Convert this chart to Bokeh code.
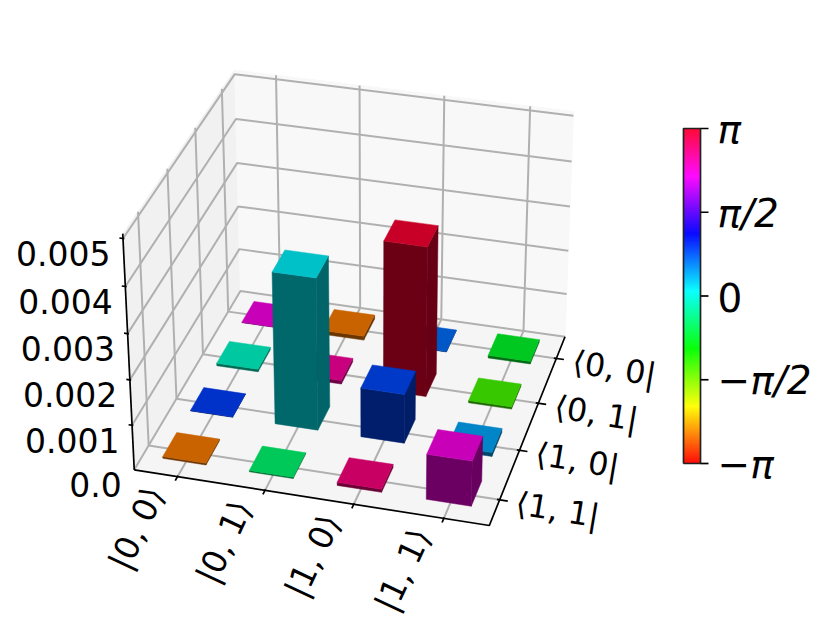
import colorsys
import numpy as np
from bokeh.core.properties import value
from bokeh.embed import file_html
from bokeh.models import ColumnDataSource, Range1d
from bokeh.plotting import figure
from bokeh.resources import INLINE

# ---- data -----------------------------------------------------------
kets = ["|0, 0⟩", "|0, 1⟩", "|1, 0⟩", "|1, 1⟩"]
bras = ["⟨0, 0|", "⟨0, 1|", "⟨1, 0|", "⟨1, 1|"]
z_ticks = [0.0, 0.001, 0.002, 0.003, 0.004, 0.005]
z_labels = ["0.0", "0.001", "0.002", "0.003", "0.004", "0.005"]
cbar_ticks = [-np.pi, -np.pi / 2, 0.0, np.pi / 2, np.pi]
cbar_labels = ["−π", "−π/2", "0", "π/2", "π"]

# rows are bras, columns are kets
magnitude_00 = [0.00001, 0.00009, 0.00001, 0.00006]
magnitude_01 = [0.00006, 0.00008, 0.00336, 0.00005]
magnitude_10 = [0.00001, 0.00338, 0.00110, 0.00009]
magnitude_11 = [0.00004, 0.00003, 0.00007, 0.00100]
phase_00 = [2.18, -2.62, 0.59, -0.87]
phase_01 = [-0.21, 2.48, 2.93, -1.34]
phase_10 = [0.79, 0.04, 0.75, 0.35]
phase_11 = [-2.62, -0.58, 2.62, 2.18]

magnitudes = [magnitude_00, magnitude_01, magnitude_10, magnitude_11]
phases = [phase_00, phase_01, phase_10, phase_11]

# ---- camera: maps (ket position, depth, height) to the page ----------
Z_TOP = z_ticks[-1]
calibration = [
    ((0, 0, 0), (133, 469)), ((4, 0, 0), (489, 525)), ((4, 4, 0), (565, 335)),
    ((0, 4, 0), (240, 290)), ((0, 0, 1), (122.3, 238)), ((0, 4, 1), (234, 74)),
    ((4, 4, 1), (573, 115)), ((0.5, 0, 0), (177.5, 477)), ((3.5, 0, 0), (443, 517.5)),
    ((4, 0.5, 0), (499.5, 499)), ((4, 3.5, 0), (555, 360)),
    ((0, 4, 0.4), (238, 206)), ((0, 0, 0.6), (127.5, 333)),
]
rows = []
for (a, b, c), (sx, sy) in calibration:
    rows.append([a, b, c, 1, 0, 0, 0, 0, -sx * a, -sx * b, -sx * c, -sx])
    rows.append([0, 0, 0, 0, a, b, c, 1, -sy * a, -sy * b, -sy * c, -sy])
CAMERA = np.linalg.svd(np.array(rows, float))[2][-1].reshape(3, 4)


def project(u, v, w):
    h = CAMERA @ np.array([u, v, w, 1.0])
    return h[0] / h[2], h[1] / h[2]


def poly(points):
    pts = [project(*p) for p in points]
    return [p[0] for p in pts], [p[1] for p in pts]


def phase_rgb(phase, factor=1.0, stretch=1.0):
    t = (phase + np.pi) / (2 * np.pi)
    r, g, b = colorsys.hsv_to_rgb(t * stretch, 1, 1)
    return "#%02x%02x%02x" % (int(r * 255 * factor), int(g * 255 * factor), int(b * 255 * factor))


p = figure(width=815, height=624, output_backend="svg", toolbar_location=None,
           x_range=Range1d(0, 815), y_range=Range1d(624, 0), min_border=0)
p.axis.visible = False
p.grid.visible = False
p.outline_line_color = None
p.background_fill_color = "white"

# ---- panes -----------------------------------------------------------
PANE_TOP = 1.018
for pts, col in [
    ([(0, 0, 0), (0, 4, 0), (0, 4, PANE_TOP), (0, 0, PANE_TOP)], "#f1f1f1"),
    ([(0, 4, 0), (4, 4, 0), (4, 4, PANE_TOP), (0, 4, PANE_TOP)], "#f8f8f8"),
    ([(0, 0, 0), (4, 0, 0), (4, 4, 0), (0, 4, 0)], "#f5f5f5"),
]:
    xs, ys = poly(pts)
    p.patch(xs, ys, fill_color=col, line_color=col, line_width=1)

# ---- grid ------------------------------------------------------------
gx, gy = [], []
for i in range(len(kets)):
    a = poly([(i + 0.5, 0, 0), (i + 0.5, 4, 0), (i + 0.5, 4, PANE_TOP)])
    gx.append(a[0]); gy.append(a[1])
for j in range(len(bras)):
    a = poly([(4, j + 0.5, 0), (0, j + 0.5, 0), (0, j + 0.5, PANE_TOP)])
    gx.append(a[0]); gy.append(a[1])
for z in z_ticks:
    w = z / Z_TOP
    a = poly([(0, 0, w), (0, 4, w), (4, 4, w)])
    gx.append(a[0]); gy.append(a[1])
p.multi_line(gx, gy, line_color="#b0b0b0", line_width=2)

# ---- axis lines and ticks --------------------------------------------
ax, ay = [], []
for pts in [[(0, 0, 0), (4, 0, 0), (4, 4, 0)], [(0, 0, 0), (0, 0, 1.02)]]:
    a = poly(pts)
    ax.append(a[0]); ay.append(a[1])
for i in range(len(kets)):
    a = poly([(i + 0.5, 0.02, 0), (i + 0.5, -0.08, 0)])
    ax.append(a[0]); ay.append(a[1])
for j in range(len(bras)):
    a = poly([(3.97, j + 0.5, 0), (4.09, j + 0.5, 0)])
    ax.append(a[0]); ay.append(a[1])
for z in z_ticks[1:]:
    w = z / Z_TOP
    a = poly([(0.015, 0, w), (-0.04, 0, w)])
    ax.append(a[0]); ay.append(a[1])
p.multi_line(ax, ay, line_color="black", line_width=1.7)

# ---- bars, painted back to front -------------------------------------
BAR = 0.5
face_x, face_y, face_c = [], [], []
for r, (mag_row, ph_row) in enumerate(zip(magnitudes, phases)):
    v0 = len(bras) - r - 0.5 - BAR / 2 + 0.05
    v1 = v0 + BAR
    for c, (m, ph) in enumerate(zip(mag_row, ph_row)):
        u0 = c + 0.482 - BAR / 2
        u1 = u0 + BAR
        w = m / Z_TOP
        faces = [
            ([(u0, v0, 0), (u1, v0, 0), (u1, v0, w), (u0, v0, w)], 0.42),
            ([(u1, v0, 0), (u1, v1, 0), (u1, v1, w), (u1, v0, w)], 0.41),
            ([(u0, v0, w), (u1, v0, w), (u1, v1, w), (u0, v1, w)], 0.785),
        ]
        for pts, shade in faces:
            xs, ys = poly(pts)
            face_x.append(xs); face_y.append(ys); face_c.append(phase_rgb(ph, shade))
p.patches(face_x, face_y, fill_color=face_c, line_color=face_c, line_width=0.5)

# ---- tick labels ----------------------------------------------------
FONT = value("DejaVu Sans")
tx = [project(i + 0.5, 0, 0)[0] - 41 for i in range(4)]
ty = [project(i + 0.5, 0, 0)[1] + 51.5 for i in range(4)]
p.text(tx, ty, text=kets, angle=np.deg2rad(65), text_align="center", text_baseline="middle",
       text_font=FONT, text_font_size="33px", text_color="black")
tx = [project(4, j + 0.5, 0)[0] + 58 for j in range(4)]
ty = [project(4, j + 0.5, 0)[1] + 10 for j in range(4)]
p.text(tx, ty, text=bras[::-1], angle=np.deg2rad(-9.5), text_align="center", text_baseline="middle",
       text_font=FONT, text_font_size="32px", text_color="black")
tx = [project(0, 0, z / Z_TOP)[0] - 12.5 for z in z_ticks]
ty = [project(0, 0, z / Z_TOP)[1] + 15 for z in z_ticks]
p.text(tx, ty, text=z_labels, text_align="right", text_baseline="middle",
       text_font=FONT, text_font_size="33px", text_color="black")

# ---- colour bar ------------------------------------------------------
CB_L, CB_R, CB_TOP, CB_BOT = 683, 700, 128, 463


def cb_y(val):
    return CB_BOT + (CB_TOP - CB_BOT) * (val + np.pi) / (2 * np.pi)


levels = np.linspace(-np.pi, np.pi, CB_BOT - CB_TOP + 1)
cols = [phase_rgb(0.5 * (a + b), stretch=0.97) for a, b in zip(levels[:-1], levels[1:])]
src = ColumnDataSource(dict(bottom=[cb_y(a) for a in levels[:-1]],
                            top=[cb_y(b) for b in levels[1:]], color=cols))
p.quad(left=CB_L, right=CB_R, top="top", bottom="bottom", fill_color="color",
       line_color="color", line_width=0.6, source=src)
p.line([CB_L, CB_R, CB_R, CB_L, CB_L], [CB_BOT, CB_BOT, CB_TOP, CB_TOP, CB_BOT],
       line_color="#222222", line_width=1.7)
p.segment(x0=[CB_R] * 5, x1=[CB_R + 8] * 5, y0=[cb_y(t) for t in cbar_ticks],
          y1=[cb_y(t) for t in cbar_ticks], line_color="black", line_width=1.7)
for t, lab in zip(cbar_ticks, cbar_labels):
    p.text([717], [cb_y(t) + 1], text=[lab], text_align="left", text_baseline="middle",
           text_font=FONT, text_font_size="39px", text_color="black",
           text_font_style="normal" if lab == "0" else "italic")

open("out.html", "w").write(file_html(p, INLINE))
